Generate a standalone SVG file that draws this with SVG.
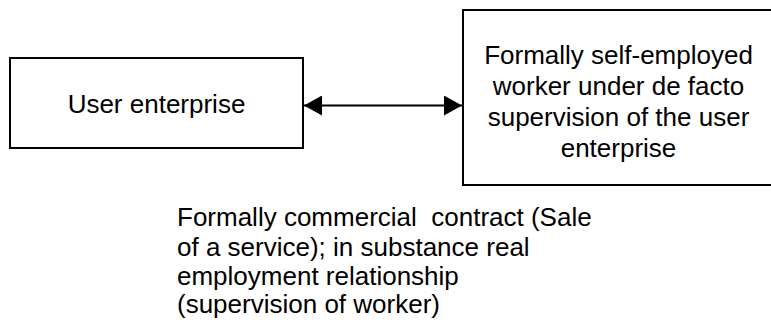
<svg xmlns="http://www.w3.org/2000/svg" width="771" height="327" viewBox="0 0 771 327">
  <style>
    .box { fill: #ffffff; stroke: #000000; stroke-width: 2; }
    .t { font-family: "Liberation Sans", Arial, sans-serif; font-size: 26px; fill: #000000; }
    .c { text-anchor: middle; }
    .conn { stroke: #000000; stroke-width: 2; fill: none; }
  </style>
  <defs>
    <marker id="ah" viewBox="0 0 18 20" refX="18" refY="10" markerWidth="18" markerHeight="20" markerUnits="userSpaceOnUse" orient="auto-start-reverse">
      <path d="M0,0 L18,10 L0,20 Z" fill="#000000"/>
    </marker>
  </defs>
  <rect width="771" height="327" fill="#ffffff"/>
  <g id="user-enterprise">
    <rect class="box" x="10" y="58" width="293" height="90"/>
    <text class="t c" x="156.5" y="113">User enterprise</text>
  </g>
  <g id="self-employed-worker">
    <rect class="box" x="463" y="10" width="320" height="175"/>
    <text class="t c" x="618.5" y="64">Formally self-employed</text>
    <text class="t c" x="618.5" y="95">worker under de facto</text>
    <text class="t c" x="618.5" y="126">supervision of the user</text>
    <text class="t c" x="618.5" y="157">enterprise</text>
  </g>
  <g id="connectors">
    <line class="conn" x1="304" y1="105.5" x2="462" y2="105.5" marker-start="url(#ah)" marker-end="url(#ah)"/>
  </g>
  <g id="contract-label">
    <text class="t" x="177" y="226" xml:space="preserve">Formally commercial  contract (Sale</text>
    <text class="t" x="177" y="256">of a service); in substance real</text>
    <text class="t" x="177" y="285">employment relationship</text>
    <text class="t" x="177" y="313">(supervision of worker)</text>
  </g>
</svg>
